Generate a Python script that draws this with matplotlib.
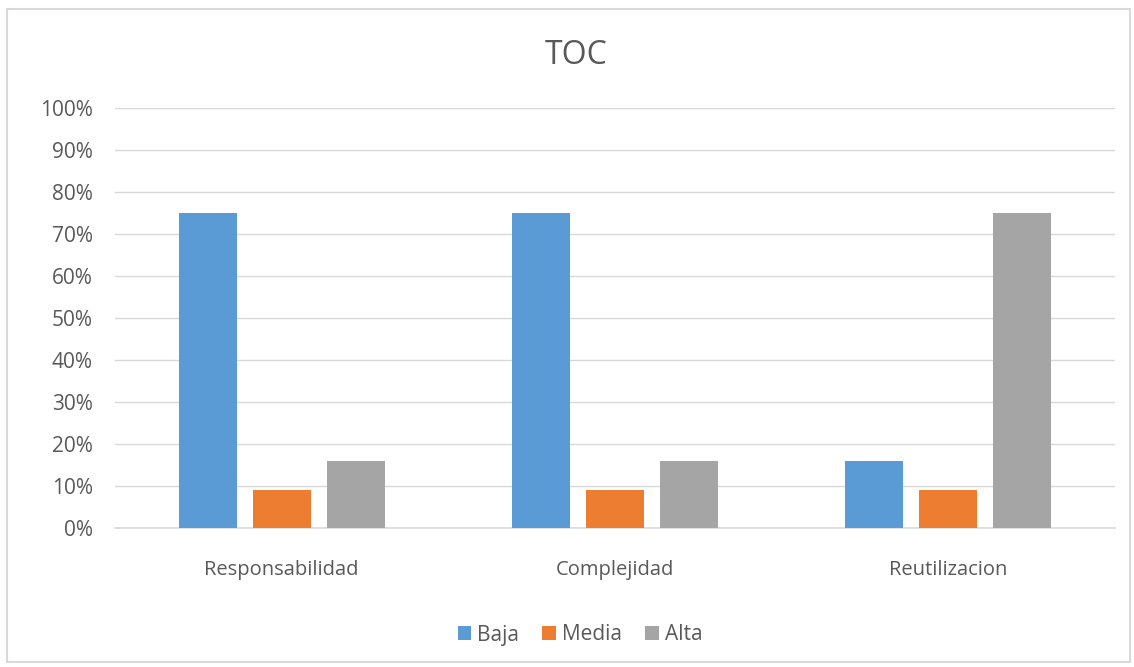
import matplotlib
matplotlib.use("Agg")
import matplotlib.pyplot as plt
import numpy as np
from matplotlib.patches import Rectangle

# data
categories = ["Responsabilidad", "Complejidad", "Reutilizacion"]
baja = [75, 75, 16]
media = [9, 9, 9]
alta = [16, 16, 75]
series_names = ["Baja", "Media", "Alta"]
colors = ["#5B9BD5", "#ED7D31", "#A5A5A5"]

plt.rcParams['font.family'] = ['Open Sans', 'DejaVu Sans']

W, H = 1134, 667
fig = plt.figure(figsize=(W / 100, H / 100), dpi=100)
ax = fig.add_axes([115 / W, 1 - 528 / H, 1000 / W, 420 / H])

# outer chart border
fig.patches.append(Rectangle((7 / W, 1 - 662 / H), 1123 / W, 653 / H,
                             transform=fig.transFigure, fill=False,
                             edgecolor="#D9D9D9", linewidth=1.5))

x = np.arange(len(categories))
width = 0.174
step = 0.222
for i, (vals, name, col) in enumerate(zip([baja, media, alta], series_names, colors)):
    ax.bar(x + (i - 1) * step, vals, width, color=col, label=name, zorder=3)

ax.set_xlim(-0.5, len(categories) - 0.5)
ax.set_ylim(0, 100)
ax.set_yticks(np.arange(0, 101, 10))
ax.set_yticklabels(["{}%".format(v) for v in range(0, 101, 10)])
ax.set_xticks(x)
ax.set_xticklabels(categories)
ax.grid(axis="y", color="#D9D9D9", linewidth=1, zorder=0)
for s in ["top", "right", "left"]:
    ax.spines[s].set_visible(False)
ax.spines["bottom"].set_color("#D9D9D9")
ax.spines["bottom"].set_linewidth(1.2)
ax.tick_params(axis="both", length=0, colors="#595959")
ax.tick_params(axis="y", pad=16, labelsize=15)
ax.tick_params(axis="x", pad=23, labelsize=14.5)

fig.text(576 / W, 1 - 55 / H, "TOC", ha="center", va="center",
         fontsize=23, color="#595959")

fig.legend(loc="center", bbox_to_anchor=(580 / W, 1 - 635 / H), ncol=3,
           frameon=False, fontsize=15, labelcolor="#595959",
           handlelength=0.65, handleheight=0.65, handletextpad=0.3,
           columnspacing=1.1)

fig.savefig("out.png", dpi=100, facecolor="white")
